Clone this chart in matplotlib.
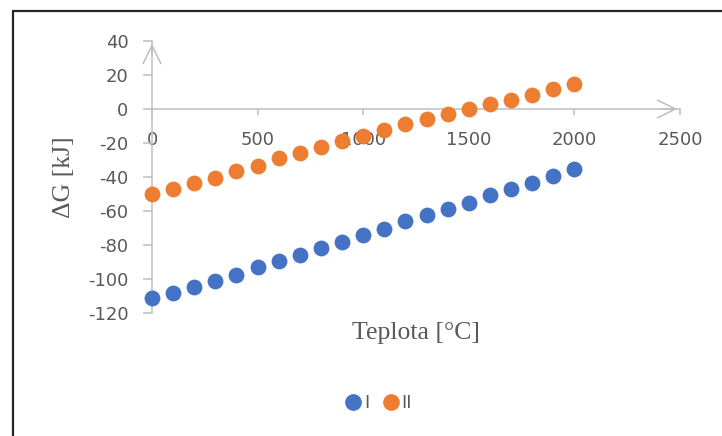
import numpy as np
import matplotlib
matplotlib.use("Agg")
import matplotlib.pyplot as plt
from matplotlib.patches import FancyArrowPatch, Rectangle
from matplotlib.lines import Line2D

plt.rcParams["axes.unicode_minus"] = False

# Temperature [°C] and Gibbs energy change [kJ] for both reactions
teplota = [0, 100, 200, 300, 400, 500, 600, 700, 800, 900, 1000,
           1100, 1200, 1300, 1400, 1500, 1600, 1700, 1800, 1900, 2000]
dg_I = [-111.3, -108.4, -104.5, -101.0, -97.5, -93.1, -89.6, -86.1, -82.0, -78.1, -74.0,
        -70.3, -66.1, -62.2, -58.7, -55.0, -50.7, -46.8, -43.3, -39.3, -35.4]
dg_II = [-50.1, -47.2, -43.7, -40.3, -36.4, -33.5, -29.1, -26.0, -22.3, -18.8, -15.9,
         -12.5, -9.0, -6.0, -3.1, -0.2, 2.8, 5.4, 8.3, 11.6, 14.5]

x_ticks = [0, 500, 1000, 1500, 2000, 2500]
y_ticks = [-120, -100, -80, -60, -40, -20, 0, 20, 40]

BLUE = "#4472C4"
ORANGE = "#ED7D31"
AXIS = "#BFBFBF"
TEXT = "#595959"

W, H = 722, 436
fig = plt.figure(figsize=(W / 100, H / 100), dpi=100)
ax = fig.add_axes([152 / W, 1 - 313 / H, 528 / W, 272 / H])

ax.scatter(teplota, dg_I, s=130, color=BLUE, zorder=5, clip_on=False, linewidths=0)
ax.scatter(teplota, dg_II, s=130, color=ORANGE, zorder=5, clip_on=False, linewidths=0)

ax.set_xlim(0, 2500)
ax.set_ylim(-120, 40)
ax.set_xticks(x_ticks)
ax.set_yticks(y_ticks)

for side in ("top", "right"):
    ax.spines[side].set_visible(False)
ax.spines["left"].set_position(("data", 0))
ax.spines["bottom"].set_position(("data", 0))
for side in ("left", "bottom"):
    ax.spines[side].set_color(AXIS)
    ax.spines[side].set_linewidth(1.1)

ax.tick_params(axis="y", direction="out", length=6.5, width=1.1, color=AXIS,
               pad=10.5, labelsize=13, labelcolor=TEXT)
ax.tick_params(axis="x", direction="out", length=4.5, width=1.1, color=AXIS,
               pad=11, labelsize=13, labelcolor=TEXT)

# open arrow heads at the ends of the axes
arrow_kw = dict(arrowstyle="->,head_length=0.65,head_width=0.32", mutation_scale=20,
                color=AXIS, linewidth=1.1, zorder=3, clip_on=False)
ax.add_patch(FancyArrowPatch((0, 30), (0, 40), **arrow_kw))
ax.add_patch(FancyArrowPatch((2400, 0), (2500, 0), **arrow_kw))

fig.text(64 / W, 1 - 177 / H, "ΔG [kJ]", rotation=90, ha="center", va="center",
         fontsize=18.5, family="Liberation Serif", color=TEXT)
fig.text(416 / W, 1 - 333 / H, "Teplota [°C]", ha="center", va="center",
         fontsize=18.5, family="Liberation Serif", color=TEXT)

handles = [Line2D([], [], marker="o", linestyle="", markersize=11, color=BLUE, label="I"),
           Line2D([], [], marker="o", linestyle="", markersize=11, color=ORANGE, label="II")]
fig.legend(handles=handles, loc="center", bbox_to_anchor=(378 / W, 1 - 403 / H), ncol=2,
           frameon=False, fontsize=13, labelcolor=TEXT, handletextpad=0.1,
           columnspacing=0.7, handlelength=1.0)

# chart area border (only left and top edge are visible in the crop)
fig.patches.append(Rectangle((13 / W, -0.1), 1.2, 1 - 11 / H + 0.1, transform=fig.transFigure,
                             fill=False, edgecolor="#262626", linewidth=1.6, figure=fig))

fig.savefig("out.png", dpi=100)
